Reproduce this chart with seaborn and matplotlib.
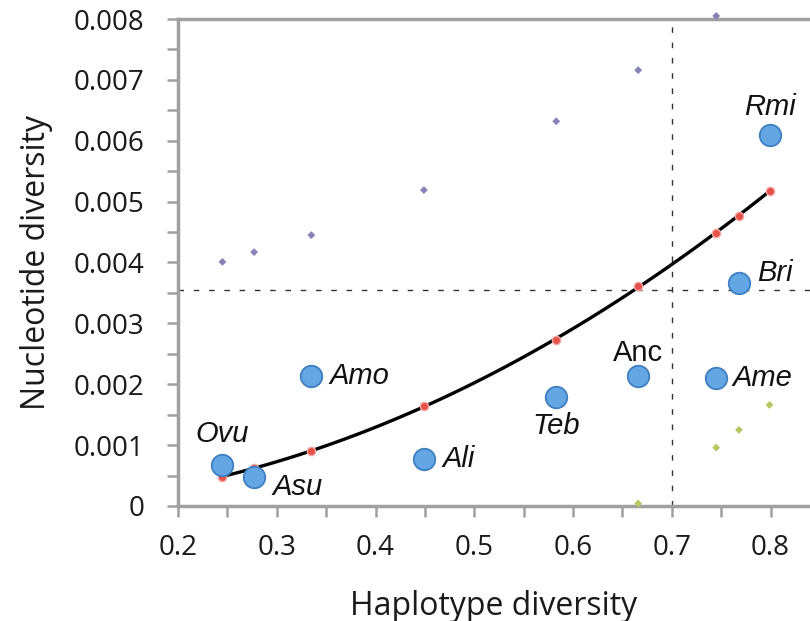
import matplotlib
matplotlib.use("Agg")
import matplotlib.pyplot as plt
import seaborn as sns
import pandas as pd

# ---- data ----
species = ["Ovu", "Asu", "Amo", "Ali", "Teb", "Anc", "Ame", "Bri", "Rmi"]
hap_div = [0.245, 0.277, 0.335, 0.449, 0.583, 0.666, 0.745, 0.768, 0.799]
nuc_div = [0.00068, 0.00047, 0.00213, 0.00077, 0.00179, 0.00213, 0.00211, 0.00367, 0.00609]
fit_div = [0.00048, 0.00063, 0.00090, 0.00164, 0.00273, 0.00362, 0.00448, 0.00477, 0.00518]
upper_x = [0.245, 0.277, 0.335, 0.449, 0.583, 0.666, 0.745]
upper_y = [0.00401, 0.00417, 0.00445, 0.00519, 0.00632, 0.00716, 0.00805]
lower_x = [0.666, 0.745, 0.768, 0.799]
lower_y = [0.00004, 0.00096, 0.00125, 0.00166]
h_threshold = [0.00355]
v_threshold = [0.7]
x_ticks = [0.2, 0.3, 0.4, 0.5, 0.6, 0.7, 0.8]
x_ticklabels = ["0.2", "0.3", "0.4", "0.5", "0.6", "0.7", "0.8"]
y_ticks = [0, 0.001, 0.002, 0.003, 0.004, 0.005, 0.006, 0.007, 0.008]
y_ticklabels = ["0", "0.001", "0.002", "0.003", "0.004", "0.005", "0.006", "0.007", "0.008"]

# label offsets in points (dx, dy, ha, italic)
label_style = {
    "Ovu": (0, 22, "center", True),
    "Asu": (13, -7, "left", True),
    "Amo": (13, 0, "left", True),
    "Ali": (13, 0, "left", True),
    "Teb": (0, -21, "center", True),
    "Anc": (0, 17, "center", False),
    "Ame": (12, 0, "left", True),
    "Bri": (13, 7, "left", True),
    "Rmi": (0, 20, "center", True),
}

sns.set_style("ticks")
plt.rcParams["font.family"] = ["Liberation Sans", "DejaVu Sans"]

df = pd.DataFrame({"species": species, "hd": hap_div, "nd": nuc_div, "fit": fit_div})
up = pd.DataFrame({"x": upper_x, "y": upper_y})
lo = pd.DataFrame({"x": lower_x, "y": lower_y})

fig = plt.figure(figsize=(8.1, 6.21), dpi=100)
ax = fig.add_axes([0.2198, 0.1852, 0.7802, 0.7842])

# thresholds
ax.axhline(h_threshold[0], color="#333333", lw=1.0, ls=(0, (4, 7)), zorder=1)
ax.axvline(v_threshold[0], color="#333333", lw=1.0, ls=(0, (4, 7)), zorder=1)

# bands
sns.scatterplot(data=up, x="x", y="y", ax=ax, marker="D", s=16, color="#8783b8",
                edgecolor="none", clip_on=False, zorder=3)
sns.scatterplot(data=lo, x="x", y="y", ax=ax, marker="D", s=16, color="#b8c860",
                edgecolor="none", clip_on=False, zorder=3)

# fitted curve
sns.regplot(data=df, x="hd", y="fit", order=2, scatter=False, ci=None, truncate=True,
            ax=ax, line_kws=dict(color="black", lw=2.4, zorder=4))
sns.scatterplot(data=df, x="hd", y="fit", ax=ax, s=36, color="#e5504a",
                edgecolor="#f4aaa2", linewidth=1.0, zorder=5)

# observed
sns.scatterplot(data=df, x="hd", y="nd", ax=ax, s=240, color="#64a5e4",
                edgecolor="#3f7fc0", linewidth=1.3, zorder=6)

for sp, xv, yv in zip(species, hap_div, nuc_div):
    dx, dy, ha, it = label_style[sp]
    ax.annotate(sp, (xv, yv), xytext=(dx, dy), textcoords="offset points",
                ha=ha, va="center", fontsize=21, style="italic" if it else "normal",
                color="#111111", zorder=7)

ax.set_xlim(0.2, 0.84)
ax.set_ylim(0, 0.008)
ax.set_xticks(x_ticks)
ax.set_xticklabels(x_ticklabels)
ax.set_yticks(y_ticks)
ax.set_yticklabels(y_ticklabels)
ax.set_xticks([0.25, 0.35, 0.45, 0.55, 0.65, 0.75], minor=True)
ax.set_yticks([0.0005, 0.0015, 0.0025, 0.0035, 0.0045, 0.0055, 0.0065, 0.0075], minor=True)

tick_font = ["Open Sans", "DejaVu Sans"]
for lab in ax.get_xticklabels() + ax.get_yticklabels():
    lab.set_family(tick_font)
    lab.set_fontsize(20)
    lab.set_color("#1a1a1a")
ax.tick_params(which="both", direction="out", length=8, width=1.8, color="#a0a0a0")
ax.tick_params(axis="y", pad=16)
ax.tick_params(axis="x", pad=12)

ax.set_xlabel("Haplotype diversity", family=tick_font, fontsize=23, labelpad=20,
              color="#1a1a1a")
ax.set_ylabel("Nucleotide diversity", family=tick_font, fontsize=23, labelpad=15,
              color="#1a1a1a")

for side in ["left", "bottom", "top"]:
    ax.spines[side].set_color("#a0a0a0")
    ax.spines[side].set_linewidth(2.5)
ax.spines["right"].set_visible(False)

fig.savefig("out.png", dpi=100)
